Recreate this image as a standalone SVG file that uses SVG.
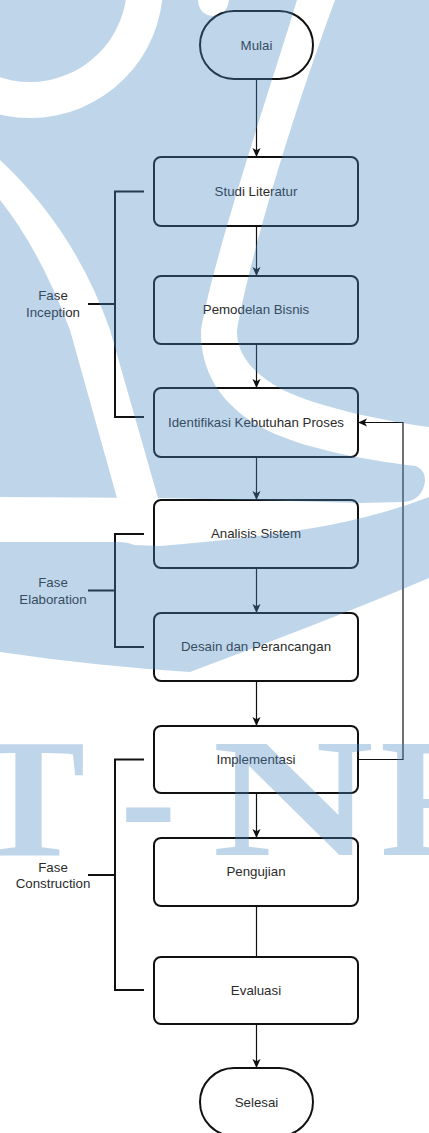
<svg xmlns="http://www.w3.org/2000/svg" width="429" height="1133" viewBox="0 0 429 1133">
  <defs>
    <style>
      .box{fill:none;stroke:#111;stroke-width:2}
      .lbl{font-family:"Liberation Sans",Arial,Helvetica,sans-serif;font-size:13.3px;fill:#2b2b2b;text-anchor:middle}
      .edge{fill:none;stroke:#111;stroke-width:1.2}
      .brk{fill:none;stroke:#111;stroke-width:2}
      .wm{font-family:"Liberation Serif","Times New Roman",serif;font-weight:bold;font-size:170px;fill:#4b8ac3}
    </style>
    <marker id="arr" viewBox="0 0 10 10" refX="10" refY="5" markerWidth="9" markerHeight="9" markerUnits="userSpaceOnUse" orient="auto">
      <path d="M0,0.5 L10,5 L0,9.5 L2.5,5 Z" fill="#111"/>
    </marker>
    <!-- shape of the background emblem: blue field with white strokes cut out -->
    <mask id="wmMask" maskUnits="userSpaceOnUse" x="0" y="0" width="429" height="1133">
      <path fill="#fff" d="M0,0 H429 V578 Q350,612 190,672 Q95,666 0,652 Z"/>
      <!-- ring, top left -->
      <path fill="#000" fill-rule="evenodd" d="M163,-15 A133,133 0 1,0 -103,-15 A133,133 0 1,0 163,-15 Z M127,-15 A97,97 0 1,0 -67,-15 A97,97 0 1,0 127,-15 Z"/>
      <!-- small cap at the top -->
      <path fill="#000" d="M198,0 Q199,15 213,16 Q227,15 229,0 Z"/>
      <!-- long S stroke and lower band -->
      <path fill="#000" d="M297,0 C270,90 215,250 201,330 C200,375 225,415 283,437 C320,452 380,462 416,466 Q428,472 424,486 Q420,500 405,502 L360,503 L250,500 L157,498 L0,497 V542 H118 Q128,542 134,545 L160,546 Q260,538 330,525 Q385,514 429,497 V427 C390,422 320,408 283,390 C255,375 236,355 237,330 C245,280 280,150 335,0 Z"/>
      <!-- left diagonal stroke -->
      <path fill="#000" d="M0,200 Q40,250 70,330 L117,498 L158,498 L110,330 Q75,230 0,160 Z"/>
    </mask>
  </defs>

  <rect width="429" height="1133" fill="#fff"/>

  <!-- connectors -->
  <g id="connectors">
    <path class="edge" d="M256.5,79 V157" marker-end="url(#arr)"/>
    <path class="edge" d="M256.5,226 V276" marker-end="url(#arr)"/>
    <path class="edge" d="M256.5,344 V388" marker-end="url(#arr)"/>
    <path class="edge" d="M256.5,457 V500" marker-end="url(#arr)"/>
    <path class="edge" d="M256.5,568 V613" marker-end="url(#arr)"/>
    <path class="edge" d="M256.5,681 V726" marker-end="url(#arr)"/>
    <path class="edge" d="M256.5,793 V838" marker-end="url(#arr)"/>
    <path class="edge" d="M256.5,906 V957"/>
    <path class="edge" d="M256.5,1024 V1068" marker-end="url(#arr)"/>
    <path class="edge" d="M358,759.5 H403 V422.5 H358" marker-end="url(#arr)"/>
  </g>

  <!-- nodes -->
  <g id="mulai">
    <rect class="box" x="200" y="11" width="113" height="68" rx="34"/>
    <text class="lbl" x="256.5" y="49.6">Mulai</text>
  </g>
  <g id="studi-literatur">
    <rect class="box" x="154" y="157" width="204" height="69" rx="7"/>
    <text class="lbl" x="256" y="195.8">Studi Literatur</text>
  </g>
  <g id="pemodelan-bisnis">
    <rect class="box" x="154" y="276" width="204" height="68" rx="7"/>
    <text class="lbl" x="256" y="313.6">Pemodelan Bisnis</text>
  </g>
  <g id="identifikasi">
    <rect class="box" x="154" y="388" width="204" height="69" rx="7"/>
    <text class="lbl" x="256" y="427">Identifikasi Kebutuhan Proses</text>
  </g>
  <g id="analisis-sistem">
    <rect class="box" x="154" y="500" width="204" height="68" rx="7"/>
    <text class="lbl" x="256" y="538">Analisis Sistem</text>
  </g>
  <g id="desain">
    <rect class="box" x="154" y="613" width="204" height="68" rx="7"/>
    <text class="lbl" x="256" y="651">Desain dan Perancangan</text>
  </g>
  <g id="implementasi">
    <rect class="box" x="154" y="726" width="204" height="67" rx="7"/>
    <text class="lbl" x="256" y="763.5">Implementasi</text>
  </g>
  <g id="pengujian">
    <rect class="box" x="154" y="838" width="204" height="68" rx="7"/>
    <text class="lbl" x="256" y="876">Pengujian</text>
  </g>
  <g id="evaluasi">
    <rect class="box" x="154" y="957" width="204" height="67" rx="7"/>
    <text class="lbl" x="256" y="994.5">Evaluasi</text>
  </g>
  <g id="selesai">
    <rect class="box" x="200" y="1068" width="113" height="68" rx="34"/>
    <text class="lbl" x="256.5" y="1106.6">Selesai</text>
  </g>

  <!-- phase brackets -->
  <g id="fase-inception">
    <path class="brk" d="M144,191.5 H115 V417 H144 M115,304 H88"/>
    <text class="lbl" x="53" y="299.6">Fase</text>
    <text class="lbl" x="53" y="316.6">Inception</text>
  </g>
  <g id="fase-elaboration">
    <path class="brk" d="M144,534 H115 V647 H144 M115,590.5 H88"/>
    <text class="lbl" x="53" y="586.6">Fase</text>
    <text class="lbl" x="53" y="603.6">Elaboration</text>
  </g>
  <g id="fase-construction">
    <path class="brk" d="M144,759.5 H115 V990 H144 M115,875 H88"/>
    <text class="lbl" x="53" y="871.6">Fase</text>
    <text class="lbl" x="53" y="887.6">Construction</text>
  </g>

  <!-- translucent emblem laid over the page -->
  <g id="watermark" opacity="0.35">
    <rect width="429" height="1133" fill="#4b8ac3" mask="url(#wmMask)"/>
    <text class="wm" x="-28" y="855">T</text>
    <text class="wm" x="120" y="855">-</text>
    <text class="wm" x="212" y="855" textLength="162" lengthAdjust="spacingAndGlyphs">N</text>
    <text class="wm" x="380" y="855">F</text>
  </g>
</svg>
